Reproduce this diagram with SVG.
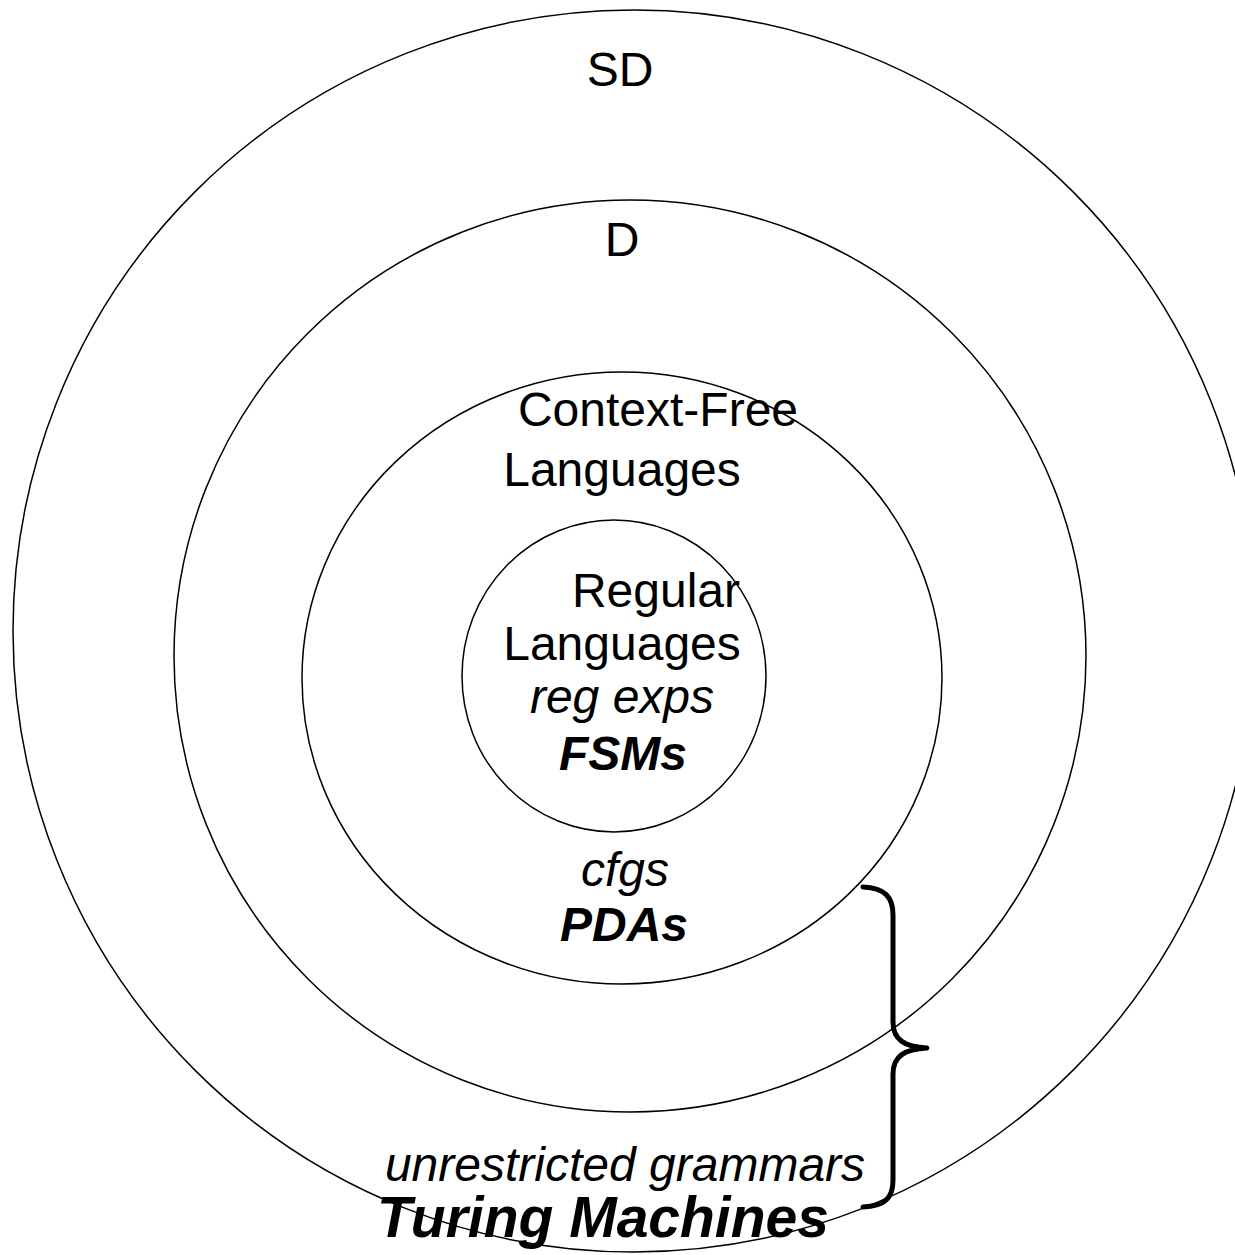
<svg xmlns="http://www.w3.org/2000/svg" width="1235" height="1255" viewBox="0 0 1235 1255">
  <style>
    .ring { fill: none; stroke: #000; stroke-width: 1.5; }
    .brace { fill: none; stroke: #000; stroke-width: 5; stroke-linecap: round; stroke-linejoin: round; }
    text { font-family: "Liberation Sans", Arial, sans-serif; font-size: 48px; fill: #000; text-anchor: middle; }
    .it { font-style: italic; }
    .bi { font-style: italic; font-weight: bold; }
    .big { font-size: 57px; }
  </style>
  <rect width="1235" height="1255" fill="#fff"/>

  <!-- Semi-decidable languages -->
  <g id="sd">
    <ellipse class="ring" cx="634" cy="631" rx="621" ry="621"/>
    <text x="620" y="86">SD</text>
    <text class="it" x="625" y="1181">unrestricted grammars</text>
    <text class="bi big" x="603" y="1237">Turing Machines</text>
  </g>

  <!-- Decidable languages -->
  <g id="d">
    <ellipse class="ring" cx="630" cy="656" rx="456" ry="456"/>
    <text x="622" y="256">D</text>
  </g>

  <!-- Context-free languages -->
  <g id="cfl">
    <ellipse class="ring" cx="622" cy="678" rx="320" ry="306"/>
    <text x="658" y="426">Context-Free</text>
    <text x="622" y="486">Languages</text>
    <text class="it" x="625" y="886">cfgs</text>
    <text class="bi" x="624" y="941">PDAs</text>
  </g>

  <!-- Regular languages -->
  <g id="regular">
    <ellipse class="ring" cx="614" cy="676" rx="152" ry="156"/>
    <text x="656" y="607">Regular</text>
    <text x="622" y="660">Languages</text>
    <text class="it" x="622" y="713">reg exps</text>
    <text class="bi" x="623" y="770">FSMs</text>
  </g>

  <!-- Brace grouping the machine models -->
  <g id="connectors">
    <path class="brace" d="M 863 887 C 885 888 893 897 893 915 L 893 1022 C 893 1040 905 1047 927 1048 C 905 1049 893 1056 893 1074 L 893 1180 C 893 1198 885 1206 863 1207"/>
  </g>
</svg>
